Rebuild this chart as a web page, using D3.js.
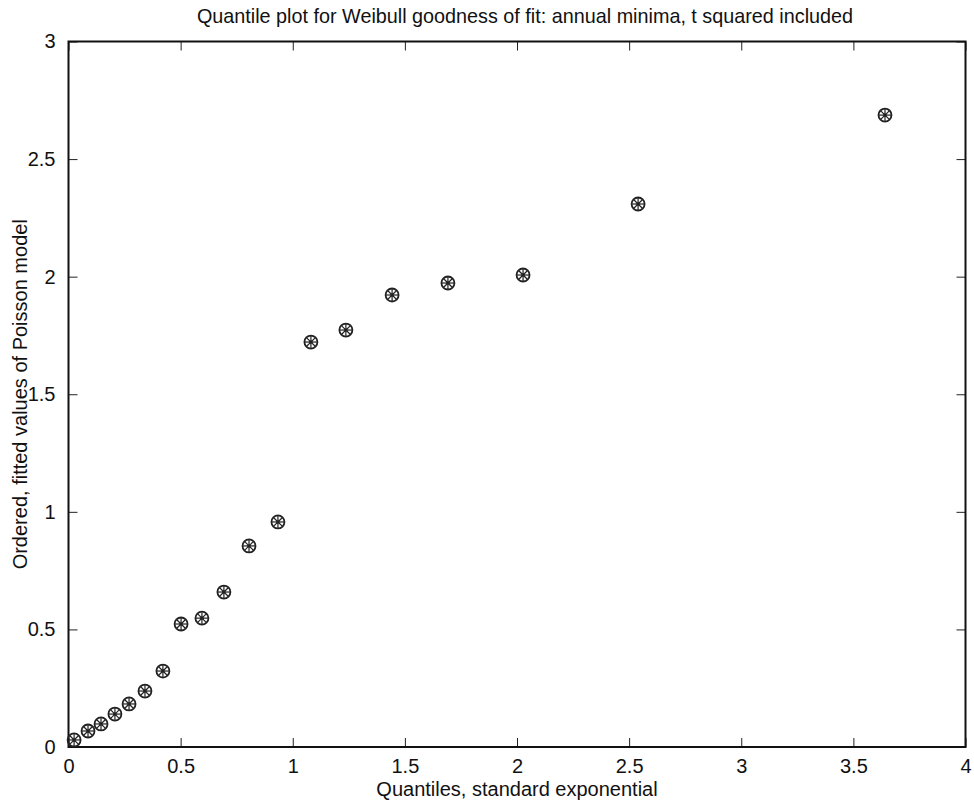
<!DOCTYPE html>
<html>
<head>
<meta charset="utf-8">
<script src="https://cdn.jsdelivr.net/npm/d3@7"></script>
<style>
  body { margin: 0; background: #fff; }
  svg text { font-family: "Liberation Sans", Arial, sans-serif; fill: #111; }
</style>
</head>
<body>
<div id="chart"></div>
<script>
// quantiles
const xQuantiles = [0.025, 0.087, 0.145, 0.207, 0.27, 0.341, 0.421, 0.502, 0.595, 0.693,
                    0.805, 0.934, 1.081, 1.237, 1.443, 1.692, 2.027, 2.54, 3.641];
const yFitted = [0.03, 0.068, 0.098, 0.14, 0.183, 0.238, 0.323, 0.523, 0.548, 0.659,
                 0.855, 0.957, 1.722, 1.773, 1.922, 1.973, 2.007, 2.309, 2.687];
const xTicks = [0, 0.5, 1, 1.5, 2, 2.5, 3, 3.5, 4];
const yTicks = [0, 0.5, 1, 1.5, 2, 2.5, 3];

const width = 974, height = 804;
const margin = {top: 41.5, right: 8.5, bottom: 57, left: 68.5};
const w = width - margin.left - margin.right,
      h = height - margin.top - margin.bottom;

const svg = d3.select("#chart").append("svg")
    .attr("width", width)
    .attr("height", height);

const g = svg.append("g")
    .attr("transform", "translate(" + margin.left + "," + margin.top + ")");

const x = d3.scaleLinear().domain([0, 4]).range([0, w]);
const y = d3.scaleLinear().domain([0, 3]).range([h, 0]);

const tickLen = 9;
const fmt = d => d3.format("")(d);

// bottom axis (ticks pointing inward)
const xAxis = g.append("g")
    .attr("transform", "translate(0," + h + ")")
    .call(d3.axisBottom(x).tickValues(xTicks).tickSizeInner(-tickLen).tickSizeOuter(0).tickPadding(11).tickFormat(fmt));
// top axis, ticks only
const xTop = g.append("g")
    .call(d3.axisTop(x).tickValues(xTicks).tickSizeInner(-tickLen).tickSizeOuter(0).tickFormat(""));
// left axis
const yAxis = g.append("g")
    .call(d3.axisLeft(y).tickValues(yTicks).tickSizeInner(-tickLen).tickSizeOuter(0).tickPadding(13).tickFormat(fmt));
// right axis, ticks only
const yRight = g.append("g")
    .attr("transform", "translate(" + w + ",0)")
    .call(d3.axisRight(y).tickValues(yTicks).tickSizeInner(-tickLen).tickSizeOuter(0).tickFormat(""));

[xAxis, xTop, yAxis, yRight].forEach(a => {
    a.select(".domain").remove();
    a.selectAll(".tick line").attr("stroke", "#222").attr("stroke-width", 1);
    a.selectAll("text").style("font-size", "20px").attr("fill", "#111");
});
xAxis.selectAll("text").attr("dy", "0.75em");

// frame
g.append("rect")
    .attr("x", 0).attr("y", 0)
    .attr("width", w).attr("height", h)
    .attr("fill", "none")
    .attr("stroke", "#111")
    .attr("stroke-width", 2);

// markers: circle with asterisk
const pts = xQuantiles.map((d, i) => ({x: d, y: yFitted[i]}));
const r = 6.5;
const marks = g.selectAll(".mark")
    .data(pts)
    .enter().append("g")
    .attr("class", "mark")
    .attr("transform", d => "translate(" + x(d.x) + "," + y(d.y) + ")");

marks.append("circle")
    .attr("r", r)
    .attr("fill", "none")
    .attr("stroke", "#222")
    .attr("stroke-width", 1.8);

const star = [0, 45, 90, 135];
star.forEach(a => {
    const rad = a * Math.PI / 180;
    marks.append("line")
        .attr("x1", -Math.cos(rad) * (r - 0.5)).attr("y1", -Math.sin(rad) * (r - 0.5))
        .attr("x2", Math.cos(rad) * (r - 0.5)).attr("y2", Math.sin(rad) * (r - 0.5))
        .attr("stroke", "#222")
        .attr("stroke-width", 1.2);
});
marks.append("circle").attr("r", 1.8).attr("fill", "#222");

// title and axis labels
svg.append("text")
    .attr("x", margin.left + w / 2 + 8)
    .attr("y", 23)
    .attr("text-anchor", "middle")
    .style("font-size", "19.8px")
    .text("Quantile plot for Weibull goodness of fit: annual minima, t squared included");

svg.append("text")
    .attr("x", margin.left + w / 2)
    .attr("y", 796)
    .attr("text-anchor", "middle")
    .style("font-size", "20px")
    .text("Quantiles, standard exponential");

svg.append("text")
    .attr("transform", "translate(27," + (margin.top + h / 2) + ") rotate(-90)")
    .attr("text-anchor", "middle")
    .style("font-size", "20px")
    .text("Ordered, fitted values of Poisson model");
</script>
</body>
</html>
